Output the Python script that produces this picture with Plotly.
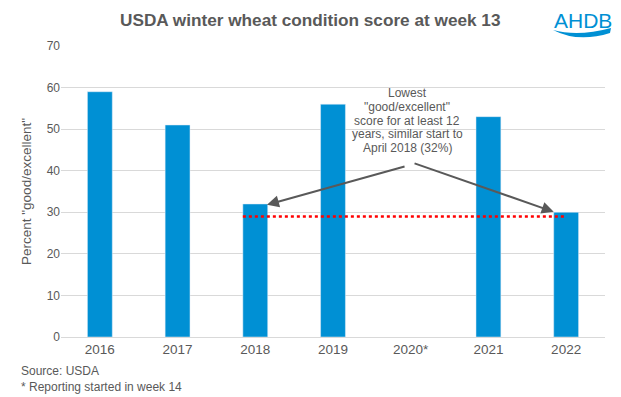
import plotly.graph_objects as go

years = ["2016", "2017", "2018", "2019", "2020*", "2021", "2022"]
scores = [59, 51, 32, 56, None, 53, 30]
y_ticks = [0, 10, 20, 30, 40, 50, 60, 70]
ref_level = 29  # dotted reference line (approx. 2018 level)
note_lines = ["Lowest", "\"good/excellent\"", "score for at least 12",
              "years, similar start to", "April 2018 (32%)"]

GRAY = "#595959"
BLUE = "#0090d4"
FONT = "Liberation Sans, Arial, sans-serif"

W, H = 621, 397
L, R, T, B = 61, 605, 46, 337


def px(x):
    return (x - L) / (R - L)


def py(y):
    return (B - y) / (B - T)


fig = go.Figure()
fig.add_trace(go.Bar(x=years, y=scores, marker_color=BLUE, width=0.32,
                     showlegend=False, hoverinfo="x+y"))

# red dotted reference line from the 2018 bar to 2022
fig.add_shape(type="line", xref="x", yref="y", x0=2 - 0.16, x1=6,
              y0=ref_level, y1=ref_level,
              line=dict(color="#ff0000", width=2.5, dash="dot"))

# annotation text, one line at a time for tight line spacing
for i, line in enumerate(note_lines):
    fig.add_annotation(xref="paper", yref="paper", x=px(407), y=py(93 + 13.75 * i),
                       xanchor="center", yanchor="middle", showarrow=False,
                       text=line, font=dict(family=FONT, size=12, color=GRAY))
# arrows
fig.add_annotation(xref="x", yref="y", x=2.15, y=31.8, axref="x", ayref="y",
                   ax=3.94, ay=41.1, text="", showarrow=True, arrowhead=2,
                   arrowsize=1.2, arrowwidth=2, arrowcolor=GRAY)
fig.add_annotation(xref="x", yref="y", x=5.84, y=30.1, axref="x", ayref="y",
                   ax=4.03, ay=41.9, text="", showarrow=True, arrowhead=2,
                   arrowsize=1.2, arrowwidth=2, arrowcolor=GRAY)

# title
fig.add_annotation(xref="paper", yref="paper", x=px(310), y=py(20), xanchor="center",
                   yanchor="middle", showarrow=False,
                   text="<b>USDA winter wheat condition score at week 13</b>",
                   font=dict(family=FONT, size=17.2, color=GRAY))
# source
fig.add_annotation(xref="paper", yref="paper", x=px(19), y=py(379), xanchor="left",
                   yanchor="middle", showarrow=False, align="left",
                   text="Source: USDA<br>* Reporting started in week 14",
                   font=dict(family=FONT, size=12, color=GRAY))
# logo
fig.add_annotation(xref="paper", yref="paper", x=px(583), y=py(20),
                   xanchor="center", yanchor="middle", showarrow=False,
                   text="AHDB", font=dict(family=FONT, size=21, color=BLUE))
fig.add_shape(type="path", xref="paper", yref="paper",
              path="M %f %f Q %f %f %f %f L %f %f Q %f %f %f %f Z" % (
                  px(553), py(30),
                  px(578), py(37), px(611), py(28),
                  px(610), py(33),
                  px(578), py(43), px(553), py(30)),
              fillcolor=BLUE, line=dict(width=0))

fig.update_layout(
    width=W, height=H,
    margin=dict(l=L, r=W - R, t=T, b=H - B, autoexpand=False),
    paper_bgcolor="white", plot_bgcolor="white",
    font=dict(family=FONT, color=GRAY),
)
fig.update_xaxes(type="category", tickfont=dict(size=13.5, color=GRAY),
                 showline=True, linecolor="#d9d9d9", linewidth=1,
                 ticks="", showgrid=False, automargin=False)
fig.update_yaxes(range=[0, 70], tickvals=y_ticks, showgrid=True,
                 gridcolor="#d9d9d9", gridwidth=1, zeroline=False,
                 ticks="", automargin=False,
                 tickfont=dict(size=12, color=GRAY),
                 title=dict(text="Percent \"good/excellent\"",
                            font=dict(size=13.5, color=GRAY), standoff=11))

fig.write_html("out.html", config={"displayModeBar": False},
               post_script="document.body.style.margin='0';")
